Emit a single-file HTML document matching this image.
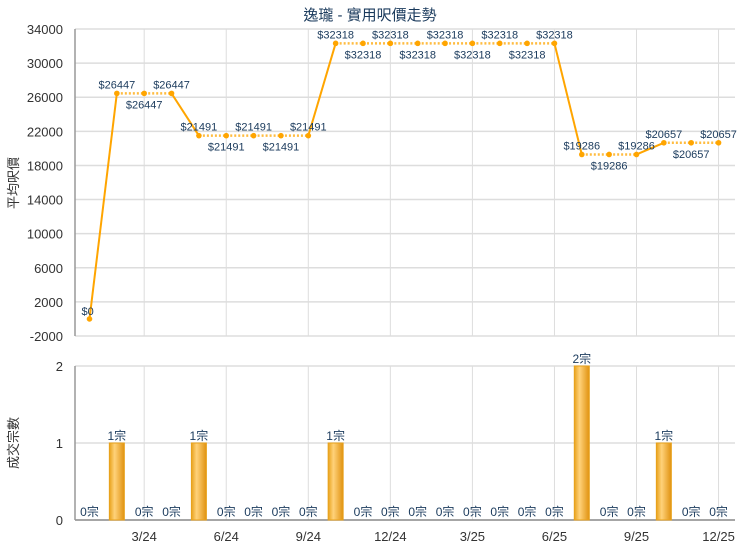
<!DOCTYPE html>
<html><head><meta charset="utf-8"><style>
body{margin:0;background:#fff;}
svg{display:block;font-family:"Liberation Sans","Noto Sans CJK TC",sans-serif;}
</style></head><body>
<svg id="s" width="740" height="550" xmlns="http://www.w3.org/2000/svg">
<defs>
<linearGradient id="g" x1="0" x2="1" y1="0" y2="0">
<stop offset="0" stop-color="#e8a21c"/><stop offset="0.35" stop-color="#ffd27a"/><stop offset="1" stop-color="#e09210"/>
</linearGradient>
</defs>
<text x="370" y="20" text-anchor="middle" font-size="15" fill="#1a3a5c">逸瓏 - 實用呎價走勢</text>
<g id="c"></g>
</svg>
<script>
var c=document.getElementById('c'),h='';
var X0=89.5,DX=27.35,L=75,R=735;
function x(i){return X0+i*DX;}
function y(v){return 29+(34000-v)*307/36000;}
function yb(v){return 520-v*77;}
// top grid
for(var v=-2000;v<=34000;v+=4000){var yy=y(v);
h+='<line x1="'+L+'" x2="'+R+'" y1="'+yy+'" y2="'+yy+'" stroke="#ddd" stroke-width="1.5"/>';
h+='<text x="63" y="'+(yy+5)+'" text-anchor="end" font-size="13" fill="#333">'+v+'</text>';}
var months=[2,5,8,11,14,17,20,23],ml=['3/24','6/24','9/24','12/24','3/25','6/25','9/25','12/25'];
months.forEach(function(i,k){var xx=x(i);
h+='<line x1="'+xx+'" x2="'+xx+'" y1="29" y2="336" stroke="#ddd"/>';
h+='<line x1="'+xx+'" x2="'+xx+'" y1="366" y2="520" stroke="#ddd"/>';
h+='<text x="'+xx+'" y="541" text-anchor="middle" font-size="13" fill="#333">'+ml[k]+'</text>';});
h+='<line x1="'+L+'" x2="'+L+'" y1="29" y2="336" stroke="#999" stroke-width="1.5"/>';
h+='<text transform="translate(18,183) rotate(-90)" text-anchor="middle" font-size="13" fill="#333">平均呎價</text>';
// bottom
[0,1,2].forEach(function(v){var yy=yb(v);
h+='<line x1="'+L+'" x2="'+R+'" y1="'+yy+'" y2="'+yy+'" stroke="'+(v==0?'#888':'#ddd')+'" stroke-width="1.5"/>';
h+='<text x="63" y="'+(yy+5)+'" text-anchor="end" font-size="13" fill="#333">'+v+'</text>';});
h+='<line x1="'+L+'" x2="'+L+'" y1="366" y2="520" stroke="#999" stroke-width="1.5"/>';
h+='<text transform="translate(18,443) rotate(-90)" text-anchor="middle" font-size="13" fill="#333">成交宗數</text>';
var vals=[0,26447,26447,26447,21491,21491,21491,21491,21491,32318,32318,32318,32318,32318,32318,32318,32318,32318,19286,19286,19286,20657,20657,20657];
var pos=['r','a','b','a','a','b','a','b','a','a','b','a','b','a','b','a','b','a','a','b','a','a','b','a'];
for(var i=0;i<23;i++){var same=vals[i]==vals[i+1];
h+='<line x1="'+x(i)+'" y1="'+y(vals[i])+'" x2="'+x(i+1)+'" y2="'+y(vals[i+1])+'" stroke="#ffa500" stroke-width="'+(same?2.5:2)+'" '+(same?'stroke-dasharray="2,2" stroke-opacity="0.75"':'')+'/>';}
for(var i=0;i<24;i++){var xx=x(i),yy=y(vals[i]);
h+='<circle cx="'+xx+'" cy="'+yy+'" r="2.8" fill="#ffa500"/>';
var ty=pos[i]=='b'?yy+15:yy-5,tx=pos[i]=='r'?xx:xx;
h+='<text x="'+(pos[i]=='r'?xx-8:xx)+'" y="'+(pos[i]=='r'?yy-4:ty)+'" text-anchor="'+(pos[i]=='r'?'start':'middle')+'" font-size="11" fill="#1a3a5c">$'+vals[i]+'</text>';}
var cnt={1:1,4:1,9:1,18:2,21:1};
for(var i=0;i<24;i++){var n=cnt[i]||0,xx=x(i);
if(n){var t=yb(n);h+='<rect x="'+(xx-7.5)+'" y="'+t+'" width="15" height="'+(520-t)+'" fill="url(#g)" stroke="#e8a21c"/>';
h+='<text x="'+xx+'" y="'+(t-3)+'" text-anchor="middle" font-size="12" fill="#1a3a5c">'+n+'宗</text>';}
else h+='<text x="'+xx+'" y="516" text-anchor="middle" font-size="12" fill="#1a3a5c">0宗</text>';}
c.innerHTML=h;
</script>
</body></html>
